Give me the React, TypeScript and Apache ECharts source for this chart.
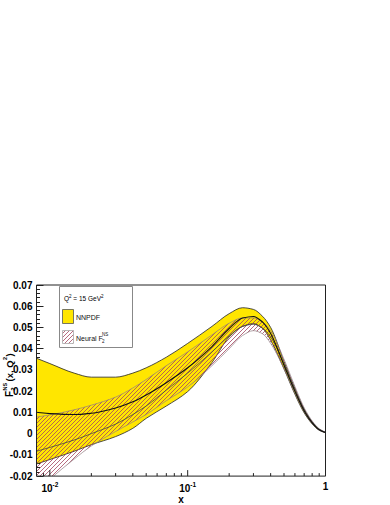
import React, { useEffect, useRef } from 'react';
import * as echarts from 'echarts';

// ---- data ----
const xs = [0.008, 0.01, 0.015, 0.02, 0.03, 0.04, 0.05, 0.07, 0.1, 0.15, 0.2, 0.25, 0.3, 0.35, 0.4, 0.5, 0.6, 0.7, 0.8, 0.9, 1];
const nnpdfUpper = [0.0355, 0.0330, 0.0285, 0.0266, 0.0266, 0.0285, 0.0310, 0.0360, 0.0425, 0.0505, 0.0565, 0.0593, 0.0585, 0.0552, 0.0500, 0.0340, 0.0213, 0.0116, 0.0056, 0.0021, 0.0006];
const nnpdfLower = [-0.0143, -0.0122, -0.0083, -0.0052, -0.0014, 0.0025, 0.0072, 0.0130, 0.0198, 0.0335, 0.0455, 0.0505, 0.0518, 0.0495, 0.0440, 0.0305, 0.0185, 0.0098, 0.0046, 0.0016, 0.0004];
const nnpdfCentral = [0.0101, 0.0094, 0.0090, 0.0096, 0.0121, 0.0150, 0.0182, 0.0240, 0.0310, 0.0410, 0.0495, 0.0545, 0.0552, 0.0525, 0.0472, 0.0322, 0.0199, 0.0107, 0.0051, 0.0018, 0.0005];
const neuralUpper = [0.0078, 0.0088, 0.0112, 0.0134, 0.0172, 0.0215, 0.0255, 0.0320, 0.0385, 0.0465, 0.0520, 0.0545, 0.0545, 0.0525, 0.0485, 0.0350, 0.0222, 0.0122, 0.0060, 0.0023, 0.0006];
const neuralLower = [-0.0275, -0.0215, -0.0120, -0.0058, 0.0010, 0.0055, 0.0090, 0.0155, 0.0220, 0.0320, 0.0400, 0.0462, 0.0485, 0.0470, 0.0425, 0.0305, 0.0190, 0.0102, 0.0048, 0.0017, 0.0004];
const neuralCentral = [-0.0083, -0.0065, -0.0030, 0.0000, 0.0045, 0.0090, 0.0130, 0.0205, 0.0285, 0.0385, 0.0460, 0.0505, 0.0515, 0.0497, 0.0455, 0.0328, 0.0206, 0.0112, 0.0054, 0.0020, 0.0005];

const yMin = -0.02;
const yMax = 0.07;
const yStep = 0.01;
const xMin = 0.008;
const xMax = 1;
const xMajorTicks = [0.01, 0.1, 1];
const xMinorTicks = [0.009, 0.02, 0.03, 0.04, 0.05, 0.06, 0.07, 0.08, 0.09, 0.2, 0.3, 0.4, 0.5, 0.6, 0.7, 0.8, 0.9];
const seriesNames = ['NNPDF', 'Neural F2NS'];

const FONT = '"Liberation Sans", Arial, Helvetica, sans-serif';
const YELLOW = '#ffe600';

function makeHatch(): any {
  const c = document.createElement('canvas');
  c.width = 4;
  c.height = 4;
  const ctx = c.getContext('2d')!;
  ctx.strokeStyle = 'rgb(165,70,95)';
  ctx.lineWidth = 0.8;
  ctx.beginPath();
  ctx.moveTo(0, 4); ctx.lineTo(4, 0);
  ctx.moveTo(-1, 1); ctx.lineTo(1, -1);
  ctx.moveTo(3, 5); ctx.lineTo(5, 3);
  ctx.stroke();
  return { image: c, repeat: 'repeat', imageWidth: 4, imageHeight: 4 };
}

// monotone cubic tangents in pixel space (x strictly increasing)
function tangents(p: number[][]): number[] {
  const n = p.length;
  const d: number[] = [];
  for (let i = 0; i < n - 1; i++) d.push((p[i + 1][1] - p[i][1]) / (p[i + 1][0] - p[i][0]));
  const m: number[] = new Array(n);
  m[0] = d[0];
  m[n - 1] = d[n - 2];
  for (let i = 1; i < n - 1; i++) {
    if (d[i - 1] * d[i] <= 0) m[i] = 0;
    else {
      const h0 = p[i][0] - p[i - 1][0];
      const h1 = p[i + 1][0] - p[i][0];
      const w1 = 2 * h1 + h0;
      const w2 = h1 + 2 * h0;
      m[i] = (w1 + w2) / (w1 / d[i - 1] + w2 / d[i]);
    }
  }
  return m;
}

function curveForward(p: number[][], m: number[]): string {
  let s = `M${p[0][0]},${p[0][1]}`;
  for (let i = 0; i < p.length - 1; i++) {
    const h = (p[i + 1][0] - p[i][0]) / 3;
    s += ` C${p[i][0] + h},${p[i][1] + m[i] * h} ${p[i + 1][0] - h},${p[i + 1][1] - m[i + 1] * h} ${p[i + 1][0]},${p[i + 1][1]}`;
  }
  return s;
}

function curveBackward(p: number[][], m: number[]): string {
  const n = p.length;
  let s = `L${p[n - 1][0]},${p[n - 1][1]}`;
  for (let i = n - 1; i > 0; i--) {
    const h = (p[i][0] - p[i - 1][0]) / 3;
    s += ` C${p[i][0] - h},${p[i][1] - m[i] * h} ${p[i - 1][0] + h},${p[i - 1][1] + m[i - 1] * h} ${p[i - 1][0]},${p[i - 1][1]}`;
  }
  return s;
}

export default function App() {
  const ref = useRef<HTMLDivElement>(null);
  useEffect(() => {
    if (!ref.current) return;
    const chart = echarts.init(ref.current, null, { renderer: 'svg' });
    const hatch = makeHatch();
    const isPow10 = (v: number) => Math.abs(Math.log10(v) - Math.round(Math.log10(v))) < 1e-6;

    const tickData = [
      ...xMajorTicks.map((v) => [v, yMin, 1]),
      ...xMinorTicks.map((v) => [v, yMin, 0]),
    ];

    // band series: data rows [x, lower, upper]
    const bandSeries = (name: string, lo: number[], up: number[], fill: any, stroke: string, width: number, z: number) => ({
      type: 'custom',
      name,
      silent: true,
      clip: true,
      z,
      data: xs.map((x, i) => [x, lo[i], up[i]]),
      encode: { x: 0, y: [1, 2] },
      renderItem: (params: any, api: any) => {
        if (params.dataIndexInside !== 0) return null;
        const n = params.dataInsideLength;
        const upP: number[][] = [];
        const loP: number[][] = [];
        for (let j = 0; j < n; j++) {
          const x = api.value(0, j);
          upP.push(api.coord([x, api.value(2, j)]));
          loP.push(api.coord([x, api.value(1, j)]));
        }
        const mu = tangents(upP);
        const ml = tangents(loP);
        const area = curveForward(upP, mu) + ' ' + curveBackward(loP, ml) + ' Z';
        return {
          type: 'group',
          children: [
            { type: 'path', shape: { pathData: area }, style: { fill, stroke: 'none' } },
            { type: 'path', shape: { pathData: curveForward(upP, mu) }, style: { fill: 'none', stroke, lineWidth: width } },
            { type: 'path', shape: { pathData: curveForward(loP, ml) }, style: { fill: 'none', stroke, lineWidth: width } },
          ],
        };
      },
    });

    const lineSeries = (name: string, ys: number[], stroke: string, width: number, z: number) => ({
      type: 'custom',
      name,
      silent: true,
      clip: true,
      z,
      data: xs.map((x, i) => [x, ys[i]]),
      encode: { x: 0, y: 1 },
      renderItem: (params: any, api: any) => {
        if (params.dataIndexInside !== 0) return null;
        const n = params.dataInsideLength;
        const p: number[][] = [];
        for (let j = 0; j < n; j++) p.push(api.coord([api.value(0, j), api.value(1, j)]));
        return { type: 'path', shape: { pathData: curveForward(p, tangents(p)) }, style: { fill: 'none', stroke, lineWidth: width } };
      },
    });

    const option: any = {
      animation: false,
      grid: { left: 36.5, right: 64.5, top: 285, bottom: 25, show: true, borderColor: '#222', borderWidth: 1, backgroundColor: 'transparent', z: 10 },
      xAxis: {
        type: 'log',
        logBase: 10,
        min: xMin,
        max: xMax,
        axisLine: { show: false },
        axisTick: { show: false },
        splitLine: { show: false },
        axisLabel: {
          margin: 5,
          fontFamily: FONT,
          formatter: (v: number) => {
            if (!isPow10(v)) return '';
            const e = Math.round(Math.log10(v));
            if (e === 0) return '{b|1}';
            return '{b|10}{s|' + e + '}';
          },
          rich: {
            b: { fontSize: 10, fontWeight: 'bold', fontFamily: FONT, color: '#000' },
            s: { fontSize: 6.5, fontWeight: 'bold', fontFamily: FONT, color: '#000', padding: [0, 0, 7, 0] },
          },
        },
        name: 'x',
        nameLocation: 'middle',
        nameGap: 13,
        nameTextStyle: { fontFamily: FONT, fontWeight: 'bold', fontSize: 10, color: '#000' },
      },
      yAxis: {
        type: 'value',
        min: yMin,
        max: yMax,
        interval: yStep,
        axisLine: { show: false },
        axisTick: { show: true, inside: true, length: 7, lineStyle: { color: '#222', width: 1 } },
        minorTick: { show: true, splitNumber: 5, length: 3.5, lineStyle: { color: '#222', width: 1 } },
        splitLine: { show: false },
        axisLabel: {
          margin: 4,
          fontFamily: FONT,
          fontWeight: 'bold',
          fontSize: 10,
          color: '#000',
          formatter: (v: number) => (Math.abs(v) < 1e-9 ? '0' : v.toFixed(2)),
        },
      },
      series: [
        bandSeries(seriesNames[0], nnpdfLower, nnpdfUpper, YELLOW, '#222', 0.8, 2),
        bandSeries(seriesNames[1], neuralLower, neuralUpper, hatch, '#917c82', 0.7, 3),
        lineSeries('Neural central', neuralCentral, '#444', 0.8, 4),
        lineSeries('NNPDF central', nnpdfCentral, '#111', 1.1, 5),
        {
          type: 'custom',
          name: 'xticks',
          silent: true,
          clip: false,
          z: 6,
          data: tickData,
          encode: { x: 0, y: 1 },
          renderItem: (params: any, api: any) => {
            const p = api.coord([api.value(0), yMin]);
            const len = api.value(2) === 1 ? 6 : 3;
            return {
              type: 'line',
              shape: { x1: p[0], y1: p[1], x2: p[0], y2: p[1] - len },
              style: { stroke: '#222', lineWidth: 1 },
            };
          },
        },
      ],
      graphic: [
        {
          type: 'group',
          x: 9,
          y: 397,
          rotation: Math.PI / 2,
          z: 100,
          children: [
            { type: 'text', x: 0, y: 0, style: { text: 'F', font: `bold 10px ${FONT}`, fill: '#000', verticalAlign: 'middle' } },
            { type: 'text', x: 6.5, y: -4.5, style: { text: 'NS', font: `bold 5.5px ${FONT}`, fill: '#000', verticalAlign: 'middle' } },
            { type: 'text', x: 6.5, y: 3.5, style: { text: '2', font: `bold 5.5px ${FONT}`, fill: '#000', verticalAlign: 'middle' } },
            { type: 'text', x: 15.5, y: 0, style: { text: '(x, Q', font: `bold 9.5px ${FONT}`, fill: '#000', verticalAlign: 'middle' } },
            { type: 'text', x: 37, y: -4.5, style: { text: '2', font: `bold 5.5px ${FONT}`, fill: '#000', verticalAlign: 'middle' } },
            { type: 'text', x: 40.5, y: 0, style: { text: ')', font: `bold 9.5px ${FONT}`, fill: '#000', verticalAlign: 'middle' } },
          ],
        },
        {
          type: 'group',
          x: 0,
          y: 0,
          z: 100,
          children: [
            { type: 'rect', z: 100, shape: { x: 59.5, y: 286.5, width: 73, height: 61 }, style: { fill: '#fff', stroke: '#888', lineWidth: 1 } },
            {
              type: 'text', z: 101, x: 64, y: 298.5,
              style: {
                text: '{n|Q}{s|2}{n| = 15 GeV}{s|2}',
                verticalAlign: 'middle',
                rich: {
                  n: { fontSize: 6.5, fontFamily: FONT, color: '#111' },
                  s: { fontSize: 4.5, fontFamily: FONT, color: '#111', padding: [0, 0, 5, 0] },
                },
              },
            },
            { type: 'rect', z: 101, shape: { x: 62.5, y: 309.5, width: 11, height: 14 }, style: { fill: YELLOW, stroke: '#555', lineWidth: 0.8 } },
            { type: 'text', z: 101, x: 76, y: 317.5, style: { text: seriesNames[0], font: `7px ${FONT}`, fill: '#111', verticalAlign: 'middle' } },
            { type: 'rect', z: 101, shape: { x: 62.5, y: 330.5, width: 11, height: 13 }, style: { fill: hatch, stroke: '#aaa', lineWidth: 0.8 } },
            { type: 'text', z: 101, x: 76, y: 338.5, style: { text: 'Neural F', font: `7px ${FONT}`, fill: '#111', verticalAlign: 'middle' } },
            { type: 'text', z: 101, x: 102, y: 334, style: { text: 'NS', font: `4.5px ${FONT}`, fill: '#111', verticalAlign: 'middle' } },
            { type: 'text', z: 101, x: 102, y: 341.5, style: { text: '2', font: `4.5px ${FONT}`, fill: '#111', verticalAlign: 'middle' } },
          ],
        },
      ],
    };
    chart.setOption(option);
    return () => chart.dispose();
  }, []);

  return (
    <div
      ref={ref}
      style={{ position: 'fixed', left: 0, top: 0, width: 390, height: 505, background: '#fff' }}
    />
  );
}
